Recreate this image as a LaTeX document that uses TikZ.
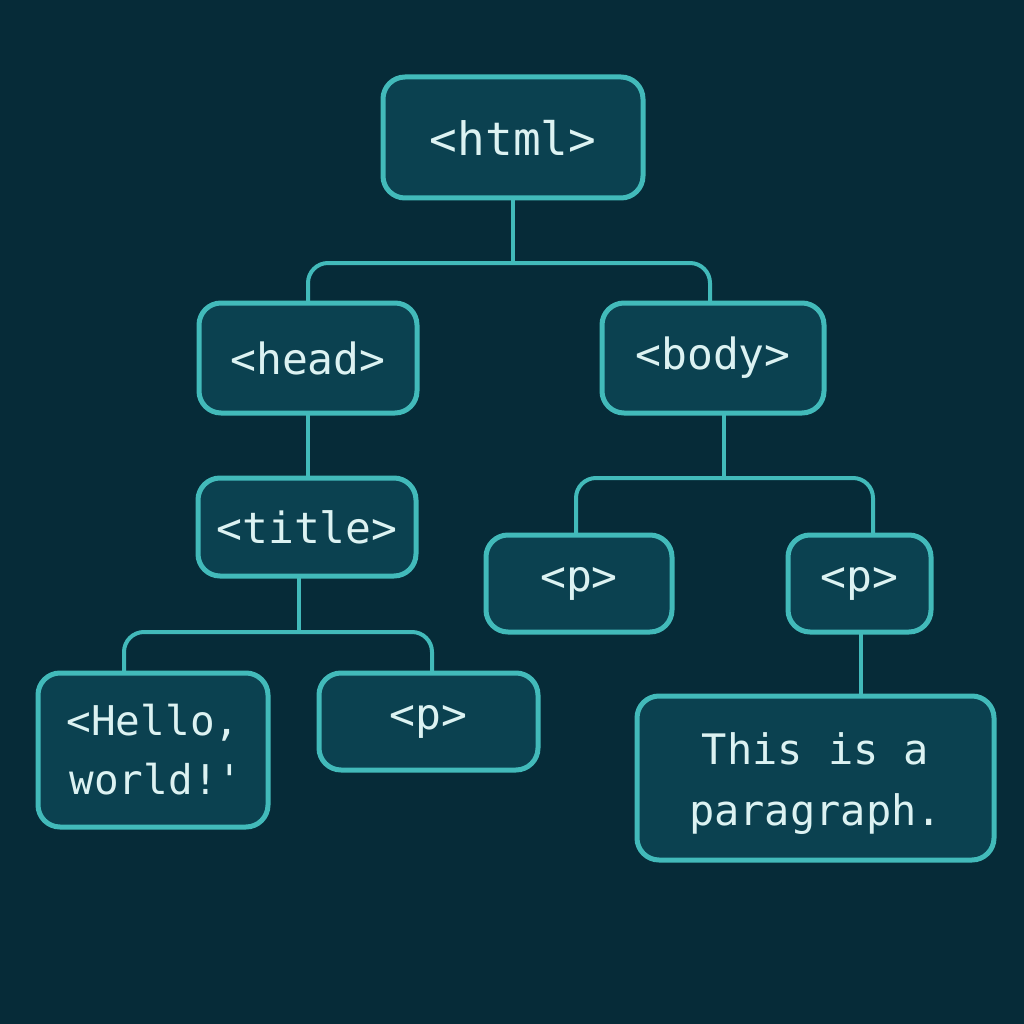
\documentclass[tikz,border=0pt]{standalone}
\usepackage{fontspec}
\newfontfamily\codefont{DejaVu Sans Mono}
\definecolor{bgc}{RGB}{6,43,56}
\definecolor{fillc}{RGB}{11,65,80}
\definecolor{edgec}{RGB}{66,186,186}
\definecolor{txtc}{RGB}{220,242,242}
\tikzset{
  tag/.style={draw=edgec, fill=fillc, line width=5pt, rounded corners=22pt,
    text=txtc, inner sep=0pt, align=center, font=\codefont\fontsize{43}{58}\selectfont},
  conn/.style={draw=edgec, line width=4pt, rounded corners=20pt}
}
\begin{document}
\begin{tikzpicture}[x=1pt,y=-1pt]
\fill[bgc] (0,0) rectangle (1024,1024);
\useasboundingbox (0,0) rectangle (1024,1024);
% connectors first
\coordinate (hb) at (513,198);
\coordinate (hj) at (513,263);
\coordinate (hL) at (308,303);
\coordinate (hR) at (710,303);
\coordinate (bb) at (724,413);
\coordinate (bj) at (724,478);
\coordinate (bL) at (576,535);
\coordinate (bR) at (873,535);
\coordinate (tb) at (299,576);
\coordinate (tj) at (299,632);
\coordinate (tL) at (124,673);
\coordinate (tR) at (432,673);
\coordinate (pb) at (861,632);
\coordinate (pt) at (861,696);
\coordinate (hdb) at (308,413);
\coordinate (ttt) at (308,478);
\draw[conn] (hb) -- (hj);
\draw[conn] (hL) |- (hj) -| (hR);
\draw[conn] (hdb) -- (ttt);
\draw[conn] (bb) -- (bj);
\draw[conn] (bL) |- (bj) -| (bR);
\draw[conn] (tb) -- (tj);
\draw[conn] (tL) |- (tj) -| (tR);
\draw[conn] (pb) -- (pt);
% nodes
\node[tag, minimum width=260pt, minimum height=121pt, font=\codefont\fontsize{46}{58}\selectfont] (html) at (513,137.5) {<html>};
\node[tag, minimum width=218pt, minimum height=110pt] (head) at (308,358) {<head>};
\node[tag, minimum width=222pt, minimum height=110pt] (body) at (713,358) {<body>};
\node[tag, minimum width=218pt, minimum height=98pt] (title) at (307,527) {<title>};
\node[tag, minimum width=186pt, minimum height=97pt] (p1) at (579,583.5) {<p>};
\node[tag, minimum width=143pt, minimum height=97pt] (p2) at (859.5,583.5) {<p>};
\node[tag, minimum width=230pt, minimum height=154pt, font=\codefont\fontsize{41}{59}\selectfont] (hello) at (153,750) {<Hello,\\\hspace*{6pt}world!'};
\node[tag, minimum width=219pt, minimum height=97pt] (p3) at (428.5,721.5) {<p>};
\node[tag, minimum width=357pt, minimum height=164pt, font=\codefont\fontsize{42}{61}\selectfont] (para) at (815.5,778) {\rule{0pt}{44pt}This is a\\paragraph.};
\end{tikzpicture}
\end{document}
